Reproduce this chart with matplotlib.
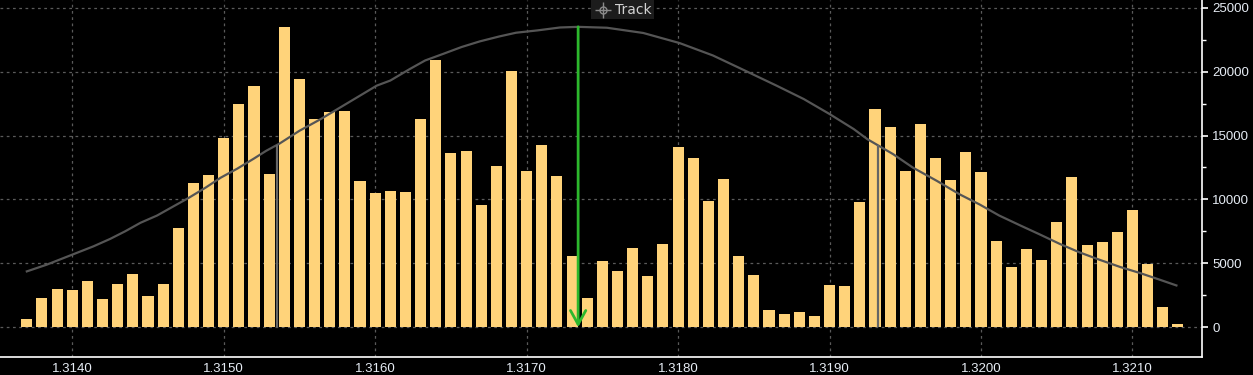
import matplotlib
matplotlib.use("Agg")
import matplotlib.pyplot as plt
from matplotlib.patches import Rectangle
from matplotlib.ticker import MultipleLocator, FuncFormatter

## data
# price levels of the bars (one every 0.0001, 1.3137 .. 1.3213)
first_price = 1.3137
price_step = 0.0001
volumes = [650, 2300, 3010, 2930, 3640, 2230, 3400, 4190, 2460, 3400,
           7800, 11260, 11890, 14790, 17460, 18880, 11970, 23510, 19430, 16290,
           16810, 16920, 11420, 10480, 10630, 10550, 16290, 20920, 13610, 13770,
           9530, 12590, 20050, 12200, 14240, 11810, 5600, 2300, 5210, 4420,
           6230, 4030, 6540, 14090, 13220, 9840, 11570, 5600, 4110, 1360,
           1050, 1200, 890, 3330, 3250, 9770, 17070, 15660, 12200, 15890,
           13220, 11490, 13690, 12120, 6780, 4740, 6150, 5290, 8270, 11730,
           6460, 6700, 7490, 9210, 4970, 1600, 260]
prices = [round(first_price + i * price_step, 4) for i in range(len(volumes))]

# distribution curve over the profile
curve_x = [1.31370, 1.31383, 1.31400, 1.31414, 1.31425, 1.31435, 1.31445, 1.31456,
           1.31467, 1.31477, 1.31488, 1.31498, 1.31509, 1.31520, 1.31528, 1.31537,
           1.31550, 1.31564, 1.31577, 1.31590, 1.31601, 1.31610, 1.31623, 1.31633,
           1.31645, 1.31657, 1.31669, 1.31682, 1.31693, 1.31707, 1.31722, 1.31734,
           1.31753, 1.31777, 1.31801, 1.31823, 1.31845, 1.31865, 1.31883, 1.31900,
           1.31916, 1.31925, 1.31942, 1.31955, 1.31971, 1.31986, 1.31999, 1.32012,
           1.32026, 1.32039, 1.32052, 1.32065, 1.32078, 1.32092, 1.32105, 1.32118,
           1.32129]
curve_y = [4370, 4890, 5680, 6330, 6910, 7510, 8170, 8740,
           9470, 10130, 10920, 11700, 12410, 13200, 13800, 14380,
           15370, 16280, 17200, 18120, 18900, 19300, 20210, 20870,
           21390, 21920, 22360, 22750, 23040, 23220, 23450, 23500,
           23430, 23020, 22230, 21260, 20030, 18900, 17850, 16680,
           15500, 14710, 13540, 12490, 11440, 10390, 9610, 8740,
           7960, 7250, 6520, 5860, 5290, 4710, 4240, 3720,
           3270]

# track (mean) and +/- 1 sigma markers
track_price, track_peak = 1.31734, 23500
sigma_prices = [1.31535, 1.31932]
sigma_heights = [14270, 14240]

# plot parameters
bg = "black"
bar_color = "#ffd37a"
curve_color = "#555555"
grid_color = "#5a5a5a"
green = "#2db82d"
label_color = "#e6ecf4"
font = "Liberation Sans"

fig = plt.figure(figsize=(12.53, 3.75), dpi=100)
fig.set_facecolor(bg)
ax = fig.add_axes([0.0, 0.0472, 0.9593, 0.9528], facecolor=bg)

ax.bar(prices, volumes, width=0.73 * price_step, color=bar_color, zorder=2)
ax.plot(curve_x, curve_y, color=curve_color, lw=1.6, zorder=3)
ax.vlines(sigma_prices, 0, sigma_heights, color="#666666", lw=1.6, zorder=3)
ax.annotate("", xy=(track_price, 0), xytext=(track_price, track_peak),
            arrowprops=dict(arrowstyle="->,head_length=1.0,head_width=0.55",
                            color=green, lw=2, shrinkA=0, shrinkB=0),
            zorder=4)

ax.set_xlim(1.313523, 1.321459)
ax.set_ylim(-2350, 25600)

# axes / ticks
for s in ["left", "top"]:
    ax.spines[s].set_visible(False)
for s in ["right", "bottom"]:
    ax.spines[s].set_color("white")
    ax.spines[s].set_linewidth(1.2)
ax.yaxis.tick_right()
ax.yaxis.set_minor_locator(MultipleLocator(2500))
ax.set_yticks([0, 5000, 10000, 15000, 20000, 25000])
ax.tick_params(axis="y", which="major", colors="white", length=4.5, width=1.2,
               pad=3, labelsize=9.5, labelcolor=label_color)
ax.tick_params(axis="y", which="minor", colors="white", length=3, width=1)
ax.xaxis.set_major_locator(MultipleLocator(0.001))
ax.xaxis.set_major_formatter(FuncFormatter(lambda v, p: "%.4f" % v))
ax.tick_params(axis="x", length=0, pad=4, labelsize=9.5, labelcolor=label_color)
for lbl in ax.get_xticklabels() + ax.get_yticklabels():
    lbl.set_fontfamily(font)
ax.grid(True, which="major", color=grid_color, lw=0.9, linestyle=(0, (2.2, 2.8)), zorder=0)
ax.set_axisbelow(True)

# "Track" tag at the top (box, crosshair icon, label)
tr = ax.get_xaxis_transform()
ax.add_patch(Rectangle((1.317424, 0.9468), 0.000416, 0.0532, transform=tr,
                       fc="#1c1c1c", ec="none", zorder=5, clip_on=False))
ax.plot([1.317503], [0.9734], transform=tr, marker="o", ms=5, mfc="none",
        mec="#8a8a8a", mew=1.0, zorder=6, clip_on=False)
ax.plot([1.317503], [0.9734], transform=tr, marker="+", ms=11, mec="#8a8a8a",
        mew=1.0, zorder=6, clip_on=False)
ax.text(1.317585, 0.9734, "Track", transform=tr, ha="left", va="center",
        color="#d2d2d2", fontsize=10, family=["DejaVu Sans"], zorder=6)

fig.savefig("out.png", dpi=100, facecolor=bg)
